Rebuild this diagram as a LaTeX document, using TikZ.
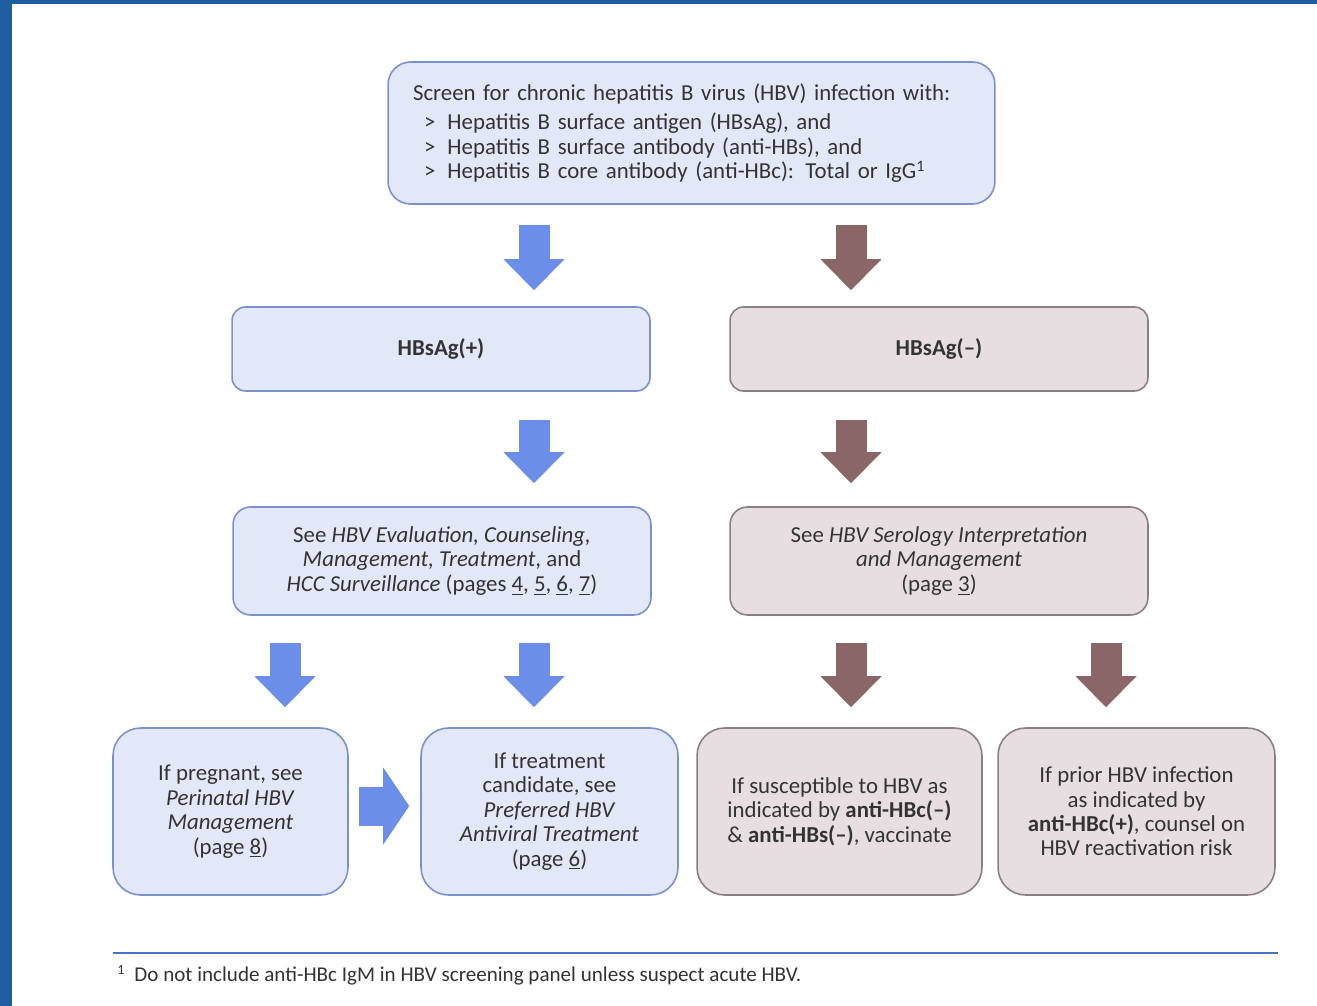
\documentclass[tikz,border=0pt]{standalone}
\usepackage{fontspec}
\setmainfont{Carlito}
\usetikzlibrary{arrows.meta}
\definecolor{bluefill}{HTML}{E3E8F8}
\definecolor{blueline}{HTML}{7A92C9}
\definecolor{bluearrow}{HTML}{6B8FE8}
\definecolor{brownfill}{HTML}{E7DEE1}
\definecolor{brownline}{HTML}{8A8082}
\definecolor{brownarrow}{HTML}{8B6668}
\definecolor{textgray}{HTML}{333333}
\definecolor{frameblue}{HTML}{1F5E9E}
\definecolor{footline}{HTML}{4A72C4}
\begin{document}
\begin{tikzpicture}[x=0.02cm,y=-0.02cm,
    box/.style={draw,line width=0.9pt,align=center,text=textgray,
      font=\fontsize{13}{13.9}\selectfont,inner sep=0pt},
    bbox/.style={box,draw=blueline,fill=bluefill},
    rbox/.style={box,draw=brownline,fill=brownfill},
    varrow/.style={line width=0.62cm,
      -{Triangle[length=0.62cm,width=1.22cm,line width=0pt]}},
    harrow/.style={line width=0.78cm,
      -{Triangle[length=0.52cm,width=1.54cm,line width=0pt]}}]
\useasboundingbox (0,0) rectangle (1317,1006);
\fill[frameblue] (0,0) rectangle (12,1006);
\fill[frameblue] (0,0) rectangle (1317,4);

\node[bbox,minimum width=12.14cm,minimum height=2.84cm,rounded corners=0.45cm,
  text width=11.14cm,align=left] (screen) at (691.5,133)
  {Screen for chronic hepatitis B virus (HBV) infection with:\\[3pt]
   \hspace*{0.22cm}>\hspace{0.24cm}Hepatitis B surface antigen (HBsAg), and\\
   \hspace*{0.22cm}>\hspace{0.24cm}Hepatitis B surface antibody (anti-HBs), and\\
   \hspace*{0.22cm}>\hspace{0.24cm}Hepatitis B core antibody (anti-HBc): Total or IgG\textsuperscript{1}};

\node[bbox,minimum width=8.36cm,minimum height=1.68cm,rounded corners=0.27cm,
  font=\bfseries\fontsize{13}{13.9}\selectfont] (hbpos) at (441,349) {HBsAg(+)};
\node[rbox,minimum width=8.36cm,minimum height=1.68cm,rounded corners=0.27cm,
  font=\bfseries\fontsize{13}{13.9}\selectfont] (hbneg) at (939,349) {HBsAg(–)};

\node[bbox,minimum width=8.36cm,minimum height=2.16cm,rounded corners=0.35cm]
  (hbeval) at (442,561)
  {See \textit{HBV Evaluation, Counseling,}\\
   \textit{Management, Treatment}, and\\
   \textit{HCC Surveillance} (pages \underline{4}, \underline{5}, \underline{6}, \underline{7})};
\node[rbox,minimum width=8.36cm,minimum height=2.16cm,rounded corners=0.35cm]
  (hbsero) at (939,561)
  {See \textit{HBV Serology Interpretation}\\
   \textit{and Management}\\
   (page \underline{3})};

\node[bbox,minimum width=4.7cm,minimum height=3.34cm,rounded corners=0.55cm]
  (preg) at (230.5,811.5)
  {If pregnant, see\\ \textit{Perinatal HBV}\\ \textit{Management}\\ (page \underline{8})};
\node[bbox,minimum width=5.14cm,minimum height=3.34cm,rounded corners=0.55cm]
  (treat) at (549.5,811.5)
  {If treatment\\ candidate, see\\ \textit{Preferred HBV}\\ \textit{Antiviral Treatment}\\ (page \underline{6})};
\node[rbox,minimum width=5.7cm,minimum height=3.34cm,rounded corners=0.55cm]
  (suscept) at (839.5,811.5)
  {If susceptible to HBV as\\ indicated by \textbf{anti-HBc(–)}\\ \& \textbf{anti-HBs(–)}, vaccinate};
\node[rbox,minimum width=5.54cm,minimum height=3.34cm,rounded corners=0.55cm]
  (prior) at (1136.5,811.5)
  {If prior HBV infection\\ as indicated by\\ \textbf{anti-HBc(+)}, counsel on\\ HBV reactivation risk};

\coordinate (xa) at (285,0);
\coordinate (xb) at (534,0);
\coordinate (xc) at (851,0);
\coordinate (xd) at (1106,0);

\draw[varrow,bluearrow,shorten <=0.4cm,shorten >=0.32cm] (screen.south -| xb) -- (hbpos.north -| xb);
\draw[varrow,brownarrow,shorten <=0.4cm,shorten >=0.32cm] (screen.south -| xc) -- (hbneg.north -| xc);
\draw[varrow,bluearrow,shorten <=0.56cm,shorten >=0.46cm] (hbpos.south -| xb) -- (hbeval.north -| xb);
\draw[varrow,brownarrow,shorten <=0.56cm,shorten >=0.46cm] (hbneg.south -| xc) -- (hbsero.north -| xc);
\draw[varrow,bluearrow,shorten <=0.54cm,shorten >=0.4cm] (hbeval.south -| xa) -- (preg.north -| xa);
\draw[varrow,bluearrow,shorten <=0.54cm,shorten >=0.4cm] (hbeval.south -| xb) -- (treat.north -| xb);
\draw[varrow,brownarrow,shorten <=0.54cm,shorten >=0.4cm] (hbsero.south -| xc) -- (suscept.north -| xc);
\draw[varrow,brownarrow,shorten <=0.54cm,shorten >=0.4cm] (hbsero.south -| xd) -- (prior.north -| xd);
\draw[harrow,bluearrow,shorten <=0.2cm,shorten >=0.22cm] ([yshift=0.11cm]preg.east) -- ([yshift=0.11cm]treat.west);

\draw[footline,line width=1.6pt] (113,953) -- (1278,953);
\node[anchor=west,text=textgray,font=\fontsize{12}{14}\selectfont,inner sep=0pt]
  (fnote) at (117,975)
  {\raisebox{4pt}{\fontsize{8}{9}\selectfont 1}\hspace{0.2cm}Do not include anti-HBc IgM in HBV screening panel unless suspect acute HBV.};
\end{tikzpicture}
\end{document}
